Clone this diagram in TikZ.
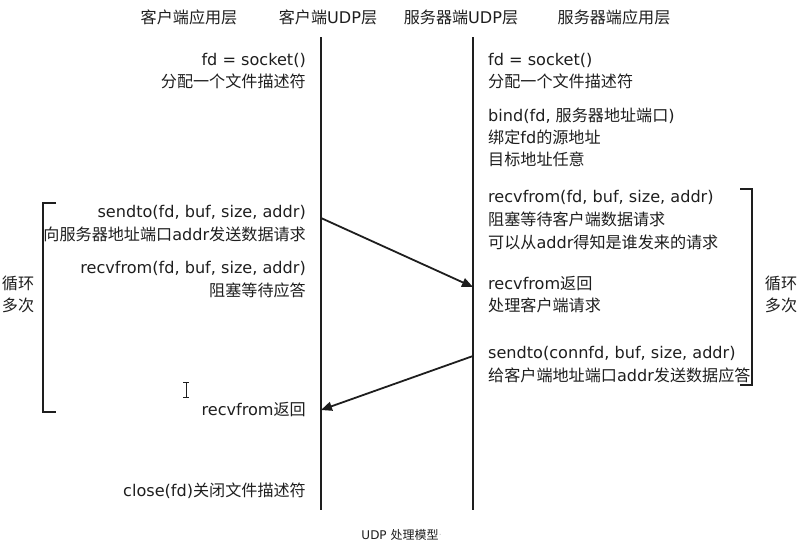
\documentclass[tikz,border=0pt]{standalone}
\usepackage{fontspec}
\setmainfont{DejaVu Sans}
\newfontfamily\cjk{Noto Sans CJK SC}
\newcommand{\zh}[1]{{\cjk #1}}
\usetikzlibrary{arrows.meta}
\definecolor{ink}{HTML}{1E1E1E}
\tikzset{
  txt/.style={inner sep=0pt, text=ink, font=\fontsize{16.1}{18}\selectfont},
  rtxt/.style={txt, anchor=east},
  ltxt/.style={txt, anchor=west},
  ctxt/.style={txt, anchor=center},
  lifeline/.style={draw=ink, line width=2pt},
  msg/.style={draw=ink, line width=1.8pt, -{Triangle[length=11pt,width=9pt]}},
  bracket/.style={draw=ink, line width=1.8pt},
}
\begin{document}
\begin{tikzpicture}[x=1pt,y=-1pt]
\useasboundingbox (0,0) rectangle (803,550);
% headers
\node[ctxt] (h1) at (189,17) {\zh{客户端应用层}};
\node[ctxt] (h2) at (328,17) {\zh{客户端}UDP\zh{层}};
\node[ctxt] (h3) at (461,17) {\zh{服务器端}UDP\zh{层}};
\node[ctxt] (h4) at (614,17) {\zh{服务器端应用层}};
% lifelines
\coordinate (ct) at (321,37);
\coordinate (cb) at (321,510);
\coordinate (st) at (473,37);
\coordinate (sb) at (473,510);
\draw[lifeline] (ct) -- (cb);
\draw[lifeline] (st) -- (sb);
% client texts
\node[rtxt] (c1a) at (306,60) {fd = socket()};
\node[rtxt] (c1b) at (306,81) {\zh{分配一个文件描述符}};
\node[rtxt] (c2a) at (306,212) {sendto(fd, buf, size, addr)};
\node[rtxt] (c2b) at (306,234) {\zh{向服务器地址端口}addr\zh{发送数据请求}};
\node[rtxt] (c3a) at (306,268) {recvfrom(fd, buf, size, addr)};
\node[rtxt] (c3b) at (306,290) {\zh{阻塞等待应答}};
\node[rtxt] (c4) at (306,409) {recvfrom\zh{返回}};
\node[rtxt] (c5) at (306,491) {close(fd)\zh{关闭文件描述符}};
% server texts
\node[ltxt] (s1a) at (488,60) {fd = socket()};
\node[ltxt] (s1b) at (488,81) {\zh{分配一个文件描述符}};
\node[ltxt] (s2a) at (488,116) {bind(fd, \zh{服务器地址端口})};
\node[ltxt] (s2b) at (488,137) {\zh{绑定}fd\zh{的源地址}};
\node[ltxt] (s2c) at (488,159) {\zh{目标地址任意}};
\node[ltxt] (s3a) at (488,197) {recvfrom(fd, buf, size, addr)};
\node[ltxt] (s3b) at (488,219) {\zh{阻塞等待客户端数据请求}};
\node[ltxt] (s3c) at (488,242) {\zh{可以从}addr\zh{得知是谁发来的请求}};
\node[ltxt] (s4a) at (488,283) {recvfrom\zh{返回}};
\node[ltxt] (s4b) at (488,305) {\zh{处理客户端请求}};
\node[ltxt] (s5a) at (488,353) {sendto(connfd, buf, size, addr)};
\node[ltxt] (s5b) at (488,375) {\zh{给客户端地址端口}addr\zh{发送数据应答}};
% messages
\coordinate (m1s) at (321,218);
\coordinate (m1e) at (473,287);
\coordinate (m2s) at (473,356);
\coordinate (m2e) at (321,410);
\draw[msg] (m1s) -- (m1e);
\draw[msg] (m2s) -- (m2e);
% left bracket
\coordinate (lb1) at (56,203);
\coordinate (lb2) at (43,203);
\coordinate (lb3) at (43,412);
\coordinate (lb4) at (56,412);
\draw[bracket] (lb1) -- (lb2) -- (lb3) -- (lb4);
\node[ctxt] (ll1) at (18,283) {\zh{循环}};
\node[ctxt] (ll2) at (18,305) {\zh{多次}};
% right bracket
\coordinate (rb1) at (740,189);
\coordinate (rb2) at (752,189);
\coordinate (rb3) at (752,385);
\coordinate (rb4) at (740,385);
\draw[bracket] (rb1) -- (rb2) -- (rb3) -- (rb4);
\node[ctxt] (rl1) at (781,283) {\zh{循环}};
\node[ctxt] (rl2) at (781,305) {\zh{多次}};
% I-beam cursor
\draw[ink, line width=0.9pt] (183,382) -- (189,382) (186,382) -- (186,397) (183,397) -- (189,397);
% caption
\node[txt, font=\fontsize{12}{14}\selectfont, anchor=center] (cap) at (400,535) {UDP \zh{处理模型}};
\node[txt, text=gray!50, font=\fontsize{9}{11}\selectfont, anchor=west] (capdot) at (cap.east) {.};
\end{tikzpicture}
\end{document}
